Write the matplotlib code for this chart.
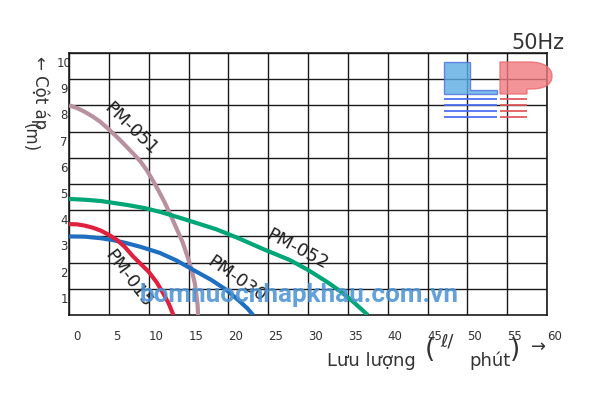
import matplotlib
matplotlib.use('Agg')
import matplotlib.pyplot as plt
import matplotlib.transforms as mtransforms
from matplotlib.path import Path
from matplotlib.patches import PathPatch, Rectangle

plt.rcParams['font.family'] = ['DejaVu Sans']

# ---- data (flow l/min, head m) ----
flow_015 = [0, 1, 2, 3, 4, 5, 6, 7, 8, 9, 10, 11, 11.8, 12.5, 13.1]
head_015 = [3.47, 3.46, 3.41, 3.33, 3.22, 3.06, 2.87, 2.6, 2.25, 1.95, 1.65, 1.25, 0.84, 0.45, 0]

flow_030 = [0, 2, 4, 5.5, 7, 9, 11.4, 13.5, 15.6, 17.8, 19.8, 21.5, 22.4, 23.1]
head_030 = [3.0, 2.99, 2.93, 2.86, 2.76, 2.6, 2.37, 2.08, 1.72, 1.35, 0.95, 0.5, 0.25, 0]

flow_051 = [0, 1, 2, 3, 3.9, 5.1, 6.4, 8.0, 9.0, 9.75, 10.5, 11.2, 12.0, 12.7,
            13.5, 14.3, 14.9, 15.4, 15.8, 16.0, 16.15, 16.2]
head_051 = [8.0, 7.9, 7.75, 7.57, 7.38, 7.06, 6.68, 6.18, 5.85, 5.53, 5.15, 4.77, 4.3, 3.85,
            3.3, 2.75, 2.2, 1.72, 1.2, 0.75, 0.35, 0]

flow_052 = [0, 2, 4, 7.3, 9.5, 11.5, 13.5, 15.6, 18.5, 21.2, 24.5, 27.7, 30, 32.4,
            34, 35.5, 36.6, 37.5]
head_052 = [4.43, 4.4, 4.35, 4.2, 4.08, 3.93, 3.75, 3.55, 3.27, 2.94, 2.5, 2.1, 1.72, 1.26,
            0.92, 0.55, 0.25, 0]

x_ticks = list(range(0, 61, 5))
y_ticks = list(range(1, 11))

fig = plt.figure(figsize=(6, 4), dpi=100)
ax = fig.add_axes([69/600, 85/400, 478/600, 262/400])
ax.set_xlim(0, 60)
ax.set_ylim(0, 10)

# curves
line_kw = dict(lw=3, solid_capstyle='butt', solid_joinstyle='round', zorder=3)
ax.plot(flow_051, head_051, color='#b8909f', **line_kw)
ax.plot(flow_052, head_052, color='#00a676', **line_kw)
ax.plot(flow_030, head_030, color='#1f6fc0', **line_kw)
ax.plot(flow_015, head_015, color='#e0203f', **line_kw)

# curve labels
lab_kw = dict(fontsize=13, color='#222222', ha='center', va='center', zorder=4)
ax.text(7.7, 7.1, 'PM-051', rotation=-44, **lab_kw)
ax.text(28.6, 2.5, 'PM-052', rotation=-28, **lab_kw)
ax.text(21.0, 1.37, 'PM-030', rotation=-35, **lab_kw)
ax.text(7.4, 1.37, 'PM-015', rotation=-53, **lab_kw)

# grid / axes
ax.set_xticks(x_ticks)
ax.set_yticks(y_ticks)
ax.set_xticklabels([str(v) for v in x_ticks], fontsize=8.5, color='#333333')
ax.set_yticklabels([str(v) for v in y_ticks], fontsize=8.5, color='#333333')
ax.tick_params(axis='x', length=0, pad=10.5)
ax.tick_params(axis='y', length=0, pad=3.6)
ax.grid(True, color='#1a1a1a', lw=1.0, zorder=1)
for s in ax.spines.values():
    s.set_color('#1a1a1a')
    s.set_linewidth(1.2)

dx = mtransforms.ScaledTranslation(5.4/72, 0, fig.dpi_scale_trans)
for lbl in ax.get_xticklabels():
    lbl.set_transform(lbl.get_transform() + dx)
dy = mtransforms.ScaledTranslation(0, -6.5/72, fig.dpi_scale_trans)
for lbl in ax.get_yticklabels():
    lbl.set_horizontalalignment('center')
    lbl.set_transform(lbl.get_transform() + dy)

# overlay in pixel coordinates for logo and free text
ov = fig.add_axes([0, 0, 1, 1], zorder=5)
ov.set_xlim(0, 600)
ov.set_ylim(400, 0)
ov.axis('off')
ov.patch.set_alpha(0)

# LP logo
l_verts = [(444, 62), (470, 62), (470, 90), (497, 90), (497, 94), (444, 94), (444, 62)]
ov.add_patch(PathPatch(Path(l_verts, closed=True), facecolor='#5aade3', edgecolor='#4a6fe3',
                       lw=1, alpha=0.8))
p_verts = [(500, 62), (530, 62), (544, 62), (552, 68), (552, 76), (552, 85), (544, 89),
           (530, 89), (527, 89), (527, 94), (500, 94), (500, 62)]
p_codes = [Path.MOVETO, Path.LINETO, Path.CURVE4, Path.CURVE4, Path.CURVE4, Path.CURVE4,
           Path.CURVE4, Path.CURVE4, Path.LINETO, Path.LINETO, Path.LINETO, Path.CLOSEPOLY]
ov.add_patch(PathPatch(Path(p_verts, p_codes), facecolor='#f07a7e', edgecolor='#e86a6e',
                       lw=1, alpha=0.8))
for yy in [98, 104, 110, 116]:
    ov.add_patch(Rectangle((444, yy), 53, 2.2, facecolor='#4f6ff0', edgecolor='none', alpha=0.9))
    ov.add_patch(Rectangle((500, yy), 27, 2.2, facecolor='#e05a5e', edgecolor='none', alpha=0.9))

ov.text(538, 43, '50Hz', fontsize=15, color='#333333', ha='center', va='center')

# watermark, fitted to the width it takes in the original
wm = ov.text(299, 295, 'bomnuocnhapkhau.com.vn', fontsize=22, fontweight='bold',
             family=['Roboto', 'DejaVu Sans'], color='#4f94d4', alpha=0.88,
             ha='center', va='center')
fig.canvas.draw()
w = wm.get_window_extent().width
wm.set_fontsize(22 * 318 / w)

# axis titles
ov.text(40, 56, '← Cột áp', fontsize=12, color='#333333', rotation=-90,
        ha='center', va='top')
ov.text(30, 123, '(m)', fontsize=12, color='#333333', rotation=-90,
        ha='center', va='top')
ov.text(371, 366, 'Lưu lượng', fontsize=13, color='#333333', ha='center', va='baseline')
ov.text(430, 357, '(', fontsize=19, color='#333333', ha='center', va='baseline')
ov.text(447, 346, 'ℓ/', fontsize=13, color='#333333', ha='center', va='baseline')
ov.text(490, 366, 'phút', fontsize=13, color='#333333', ha='center', va='baseline')
ov.text(515, 357, ')', fontsize=19, color='#333333', ha='center', va='baseline')
ov.text(539, 352, '→', fontsize=13, color='#333333', ha='center', va='baseline')

fig.savefig('out.png', dpi=100)
